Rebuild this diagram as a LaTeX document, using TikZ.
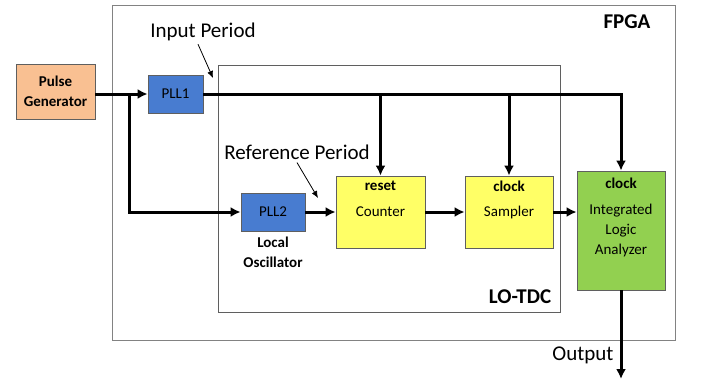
\documentclass[tikz,border=0pt]{standalone}
\usepackage{fontspec}
\setmainfont{Carlito}
\usepackage{xcolor}
\usepackage{tikz}
\usetikzlibrary{arrows.meta, positioning, calc}
\definecolor{tdcorange}{RGB}{249,192,146}
\definecolor{tdcblue}{RGB}{72,124,208}
\definecolor{tdcyellow}{RGB}{255,255,102}
\definecolor{tdcgreen}{RGB}{146,208,80}
\definecolor{tdcedge}{RGB}{95,95,95}
\definecolor{tdcframe}{RGB}{130,130,130}

\begin{document}
\begin{tikzpicture}[x=1pt,y=-1pt,
  blk/.style={draw=tdcedge, thick, align=center, inner sep=0pt,
    font=\fontsize{15}{20}\selectfont},
  tag/.style={font=\bfseries\fontsize{15}{20}\selectfont, inner sep=0pt},
  lbl/.style={font=\fontsize{21}{25}\selectfont, inner sep=0pt},
  wire/.style={line width=3pt, -{Latex[length=10pt,width=10pt]}},
  note/.style={line width=0.8pt, -{Latex[length=7pt,width=6pt]}}]
\useasboundingbox (0,0) rectangle (702,381);

% Frames
\node[draw=tdcframe, line width=0.9pt, minimum width=563pt, minimum height=335pt] (fpga) at (393.5,172.5) {};
\node[tag, font=\bfseries\fontsize{21}{25}\selectfont] (fpgalbl) at (627,22) {FPGA};
\node[draw=tdcedge, line width=0.7pt, minimum width=342pt, minimum height=247pt] (lotdc) at (389,188.5) {};
\node[tag, font=\bfseries\fontsize{21}{25}\selectfont] (lotdclbl) at (520,297) {LO-TDC};

% Blocks
\node[blk, fill=tdcorange, font=\bfseries\fontsize{15}{20}\selectfont,
  minimum width=79pt, minimum height=55pt] (pulse) at (55.5,91.5) {Pulse\\Generator};
\node[blk, fill=tdcblue, minimum width=55pt, minimum height=38pt] (pll1) at (175.5,94) {PLL1};
\node[blk, fill=tdcblue, minimum width=64pt, minimum height=38pt] (pll2) at (273,212) {PLL2};
\node[tag, align=center, below=5pt of pll2] (lo) {Local\\Oscillator};
\node[blk, fill=tdcyellow, minimum width=89pt, minimum height=72pt] (counter) at (380.5,212) {Counter};
\node[tag, below=5pt of counter.north] (reset) {reset};
\node[blk, fill=tdcyellow, minimum width=88pt, minimum height=72pt] (sampler) at (509,212) {\raisebox{2pt}{Sampler}};
\node[tag, below=5pt of sampler.north] (sclk) {clock};
\node[blk, fill=tdcgreen, minimum width=88pt, minimum height=119pt] (ila) at (621,230.5) {Integrated\\Logic\\Analyzer};
\node[tag, below=7pt of ila.north] (iclk) {clock};

% Signals
\coordinate (split) at (129,94);
\coordinate (out) at (621,379);
\draw[wire] (pulse.east |- pll1.west) -- (pll1.west);
\draw[wire] (split) |- (pll2.west);
\draw[wire] (pll1.east) -| (ila.north);
\draw[wire] (counter.north |- pll1.east) -- (counter.north);
\draw[wire] (sampler.north |- pll1.east) -- (sampler.north);
\draw[wire] (pll2.east) -- (counter.west);
\draw[wire] (counter.east) -- (sampler.west);
\draw[wire] (sampler.east) -- (sampler.east -| ila.west);
\draw[wire] (ila.south) -- (out);
\node[lbl] (outlbl) at (583,355) {Output};

% Annotations
\node[lbl] (inp) at (203,32) {Input Period};
\coordinate (inptip) at (213,78);
\draw[note] ([xshift=-5pt,yshift=-3pt]inp.south) -- (inptip);
\node[lbl] (refp) at (297,152) {Reference Period};
\coordinate (reftip) at (318,198);
\draw[note] ([yshift=-3pt]refp.south) -- (reftip);
\end{tikzpicture}
\end{document}
